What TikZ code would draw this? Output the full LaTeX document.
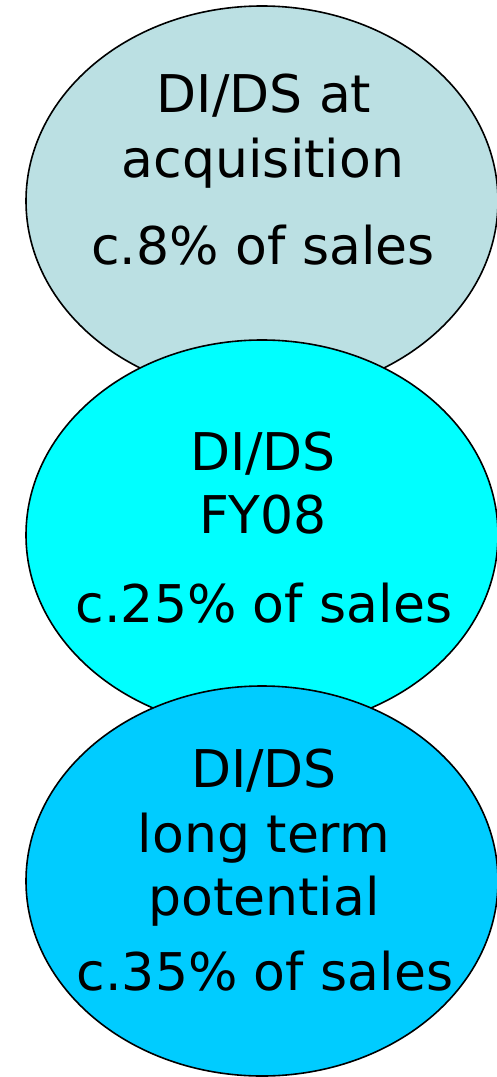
\documentclass[tikz,border=0pt]{standalone}
\usepackage{fontspec}
\setmainfont{DejaVu Sans}
\usepackage{tikz}
\usetikzlibrary{shapes.geometric}

\definecolor{acqblue}{HTML}{BBE0E3}
\definecolor{fyblue}{HTML}{00FFFF}
\definecolor{longblue}{HTML}{00CCFF}

\begin{document}
\begin{tikzpicture}[x=0.75pt, y=-0.75pt,
    blob/.style={draw, ellipse, line width=1.2pt, inner sep=0pt,
      minimum width=354pt, minimum height=292.5pt},
    txt/.style={anchor=base, inner sep=0pt, font=\fontsize{39}{47}\selectfont}]
    \useasboundingbox (0,0) rectangle (496,1077);
    \node[blob, fill=acqblue] (acq) at (262,201) {};
    \node[blob, fill=fyblue] (fy) at (262,535) {};
    \node[blob, fill=longblue] (long) at (262,881) {};
    % lines of text, by baseline
    \node[txt] (acq1) at (264,113) {DI/DS at};
    \node[txt] (acq2) at (263,177) {acquisition};
    \node[txt] (acq3) at (263,264) {c.8\% of sales};
    \node[txt] (fy1) at (263,470) {DI/DS};
    \node[txt] (fy2) at (263,533) {FY08};
    \node[txt] (fy3) at (264,622) {c.25\% of sales};
    \node[txt] (long1) at (264,787) {DI/DS};
    \node[txt] (long2) at (264,852) {long term};
    \node[txt] (long3) at (264,915) {potential};
    \node[txt] (long4) at (265,990) {c.35\% of sales};
  \end{tikzpicture}
\end{document}
